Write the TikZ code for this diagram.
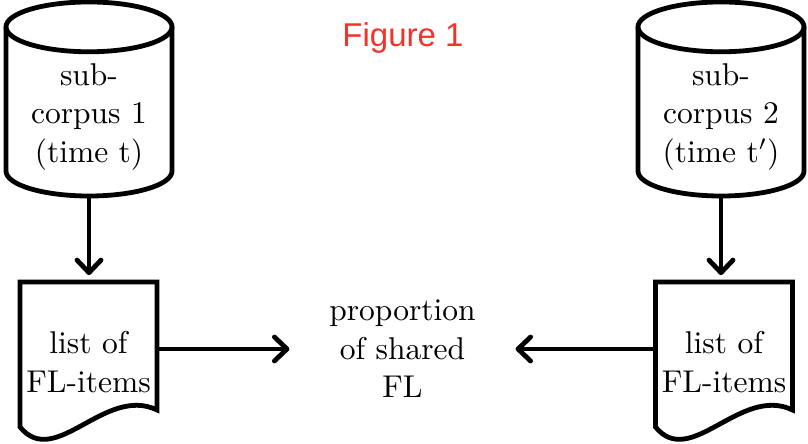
\documentclass[tikz,border=0pt]{standalone}
\usepackage{fontspec}
\newfontfamily\figfont{Liberation Sans}
\usetikzlibrary{arrows.meta}
\definecolor{figred}{RGB}{240,52,44}
\begin{document}
\begin{tikzpicture}[x=0.3333pt, y=0.3333pt, line width=1.6pt,
  font=\fontsize{10.5}{12.8}\selectfont,
  >={Straight Barb[length=4.2pt, width=8pt, round]},
  corpus/.style={minimum width=55.33pt, minimum height=64.67pt, inner sep=0pt, outer sep=0pt},
  corpustext/.style={align=center, inner sep=0pt},
  doc/.style={minimum width=45.67pt, minimum height=53.33pt, inner sep=0pt, outer sep=0pt, align=center},
  share/.style={align=center, inner xsep=12.5pt}]
\useasboundingbox (0,0) rectangle (808,444);

\node[anchor=base, text=figred, font=\figfont\fontsize{11}{13}\selectfont] (fig) at (403,397) {Figure 1};

% sub-corpora
\node[corpus] (c1) at (89,345) {};
\node[corpustext] (c1txt) at ([yshift=-6pt]c1.center) {sub-\\corpus 1\\(time t)};
\draw ([yshift=-8.3pt]c1.north west) -- ([yshift=8.3pt]c1.south west)
  arc[start angle=180, end angle=360, x radius=27.67pt, y radius=8.3pt] -- ([yshift=-8.3pt]c1.north east);
\draw ([yshift=-8.3pt]c1.north) ellipse [x radius=27.67pt, y radius=8.3pt];

\node[corpus] (c2) at (721,345) {};
\node[corpustext] (c2txt) at ([yshift=-6pt]c2.center) {sub-\\corpus 2\\(time t$'$)};
\draw ([yshift=-8.3pt]c2.north west) -- ([yshift=8.3pt]c2.south west)
  arc[start angle=180, end angle=360, x radius=27.67pt, y radius=8.3pt] -- ([yshift=-8.3pt]c2.north east);
\draw ([yshift=-8.3pt]c2.north) ellipse [x radius=27.67pt, y radius=8.3pt];

% lists
\node[doc] (l1) at (88.5,82) {list of\\FL-items};
\draw (l1.north west) -- (l1.north east) -- ([yshift=10.67pt]l1.south east)
  .. controls ([xshift=28.33pt,yshift=19pt]l1.south west) and ([xshift=11.67pt,yshift=-9.33pt]l1.south west)
  .. ([yshift=5pt]l1.south west) -- cycle;

\node[doc] (l2) at (724,82) {list of\\FL-items};
\draw (l2.north west) -- (l2.north east) -- ([yshift=10.67pt]l2.south east)
  .. controls ([xshift=28.33pt,yshift=19pt]l2.south west) and ([xshift=11.67pt,yshift=-9.33pt]l2.south west)
  .. ([yshift=5pt]l2.south west) -- cycle;

\node[share] (fl) at (402.5,95) {proportion\\of shared\\FL};

\draw[->, shorten >=2.3pt] (c1.south) -- (c1.south |- l1.north);
\draw[->, shorten >=2.3pt] (c2.south) -- (c2.south |- l2.north);
\draw[->] (l1.east |- fl.west) -- (fl.west);
\draw[->] (l2.west |- fl.east) -- (fl.east);

\end{tikzpicture}
\end{document}
